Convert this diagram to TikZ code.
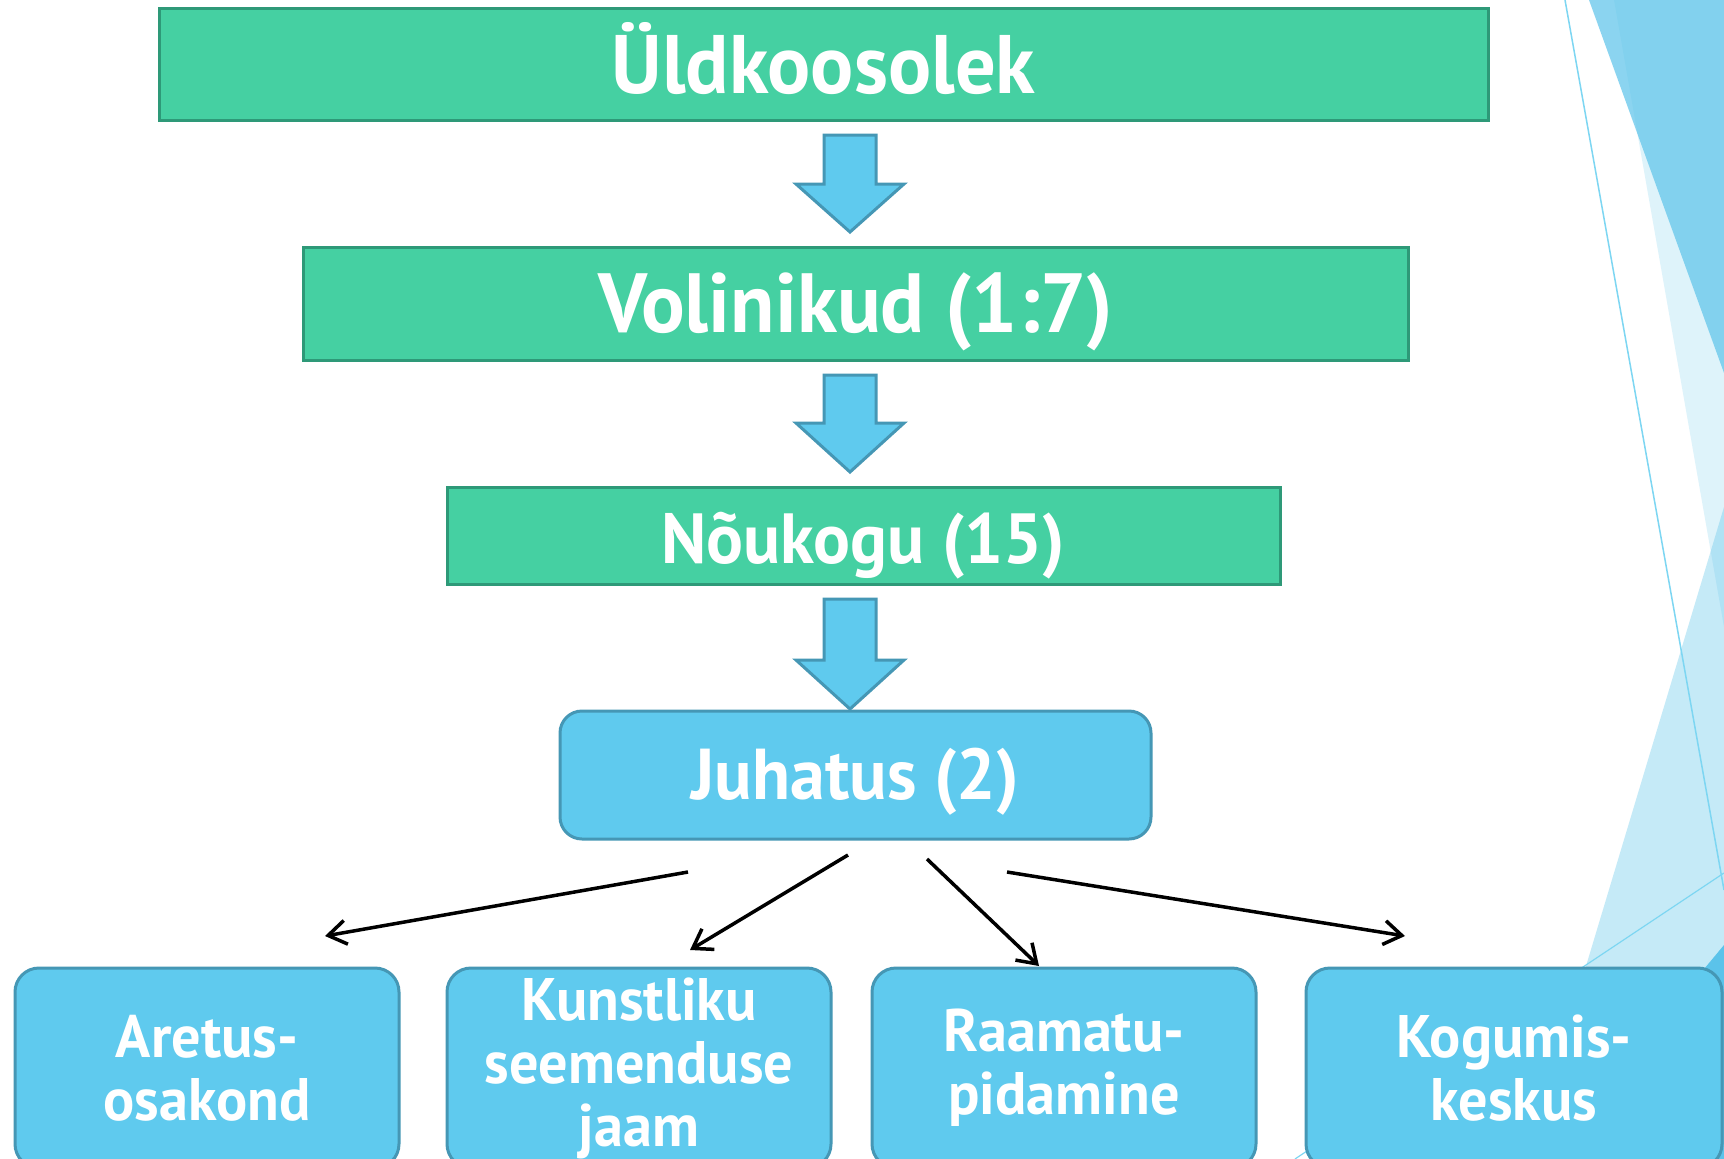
\documentclass[tikz,border=0pt]{standalone}
\usepackage{fontspec}
\setmainfont{PT Sans}
\newfontfamily\boxfont[FakeStretch=0.97]{PT Sans}
\usetikzlibrary{arrows.meta}
\definecolor{boxgreen}{HTML}{45D0A2}
\definecolor{boxgreenline}{HTML}{2E9978}
\definecolor{boxblue}{HTML}{5FCAEE}
\definecolor{boxblueline}{HTML}{4597B5}
\definecolor{decoblue}{HTML}{5BC3EA}
\definecolor{decoline}{HTML}{7DD6F2}
\tikzset{
  greenbox/.style={draw=boxgreenline, fill=boxgreen, line width=3pt, inner sep=0pt,
    text depth=0pt, text=white, font=\boxfont\bfseries},
  bluebox/.style={draw=boxblueline, fill=boxblue, line width=3pt, inner sep=0pt,
    rounded corners=24pt, text=white, align=center, font=\boxfont\bfseries},
  blockarrow/.style={draw=boxblueline, fill=boxblue, line width=3pt, line join=miter},
  thinarrow/.style={-{Straight Barb[length=18pt,width=24pt]}, line width=3.5pt},
}
% block arrow pointing down: x, top, neck, tip
\newcommand{\blockdown}[4]{%
  \draw[blockarrow] (#1-26,#2) -- (#1+26,#2) -- (#1+26,#3) -- (#1+54,#3)
    -- (#1,#4) -- (#1-54,#3) -- (#1-26,#3) -- cycle;}
\begin{document}
\begin{tikzpicture}[x=1pt,y=-1pt]
  \useasboundingbox (0,0) rectangle (1724,1159);
  \clip (0,0) rectangle (1724,1159);
  \fill[white] (0,0) rectangle (1724,1159);
  % background
  \fill[decoblue, opacity=0.2] (1614,0) -- (1724,0) -- (1724,627) -- cycle;
  \fill[decoblue, opacity=0.7] (1589,0) -- (1724,0) -- (1724,373) -- cycle;
  \fill[decoblue, opacity=0.35] (1724,507) -- (1528,1159) -- (1724,1159) -- cycle;
  \fill[decoblue] (1546,1159) -- (1724,945) -- (1724,1159) -- cycle;
  \draw[decoline, line width=1.5pt] (1565,0) -- (1724,890);
  \draw[decoline, line width=1.2pt] (1295,1159) -- (1724,873);

  \node[greenbox, minimum width=1329, minimum height=112, text height=59,
    font=\boxfont\bfseries\fontsize{83}{100}\selectfont] (uld) at (823.5,64) {Üldkoosolek};
  \node[greenbox, minimum width=1105, minimum height=113, text height=57,
    font=\boxfont\bfseries\fontsize{84}{100}\selectfont] (vol) at (855.5,303.5) {Volinikud (1:7)};
  \node[greenbox, minimum width=833, minimum height=97, text height=55,
    font=\boxfont\bfseries\fontsize{71}{90}\selectfont] (nou) at (863.5,535.5) {Nõukogu (15)};
  \node[bluebox, minimum width=591, minimum height=128, rounded corners=22pt,
    text height=48, text depth=0pt,
    font=\boxfont\bfseries\fontsize{72}{80}\selectfont] (juh) at (855.5,775) {Juhatus (2)};

  \begin{scope}[every node/.append style={bluebox, minimum height=200,
      font=\boxfont\bfseries\fontsize{60}{63}\selectfont}]
    \node[minimum width=384] (are) at (207,1068) {Aretus-\\osakond};
    \node[minimum width=384] (kun) at (639,1068) {Kunstliku\\seemenduse\\jaam};
    \node[minimum width=384] (raa) at (1064,1068) {Raamatu-\\pidamine};
    \node[minimum width=416] (kog) at (1514,1068) {Kogumis-\\keskus};
  \end{scope}

  \blockdown{850}{135}{184}{232}
  \blockdown{850}{375}{423}{472}
  \blockdown{850}{599}{660}{709}

  \coordinate (j1) at (688,872);
  \coordinate (j2) at (848,855);
  \coordinate (j3) at (927,859);
  \coordinate (j4) at (1007,872);
  \coordinate (b1) at (325,936);
  \coordinate (b2) at (690,950);
  \coordinate (b3) at (1039,966);
  \coordinate (b4) at (1405,936);
  \begin{scope}[thinarrow]
    \draw (j1) to (b1);
    \draw (j2) to (b2);
    \draw (j3) to (b3);
    \draw (j4) to (b4);
  \end{scope}
\end{tikzpicture}
\end{document}
